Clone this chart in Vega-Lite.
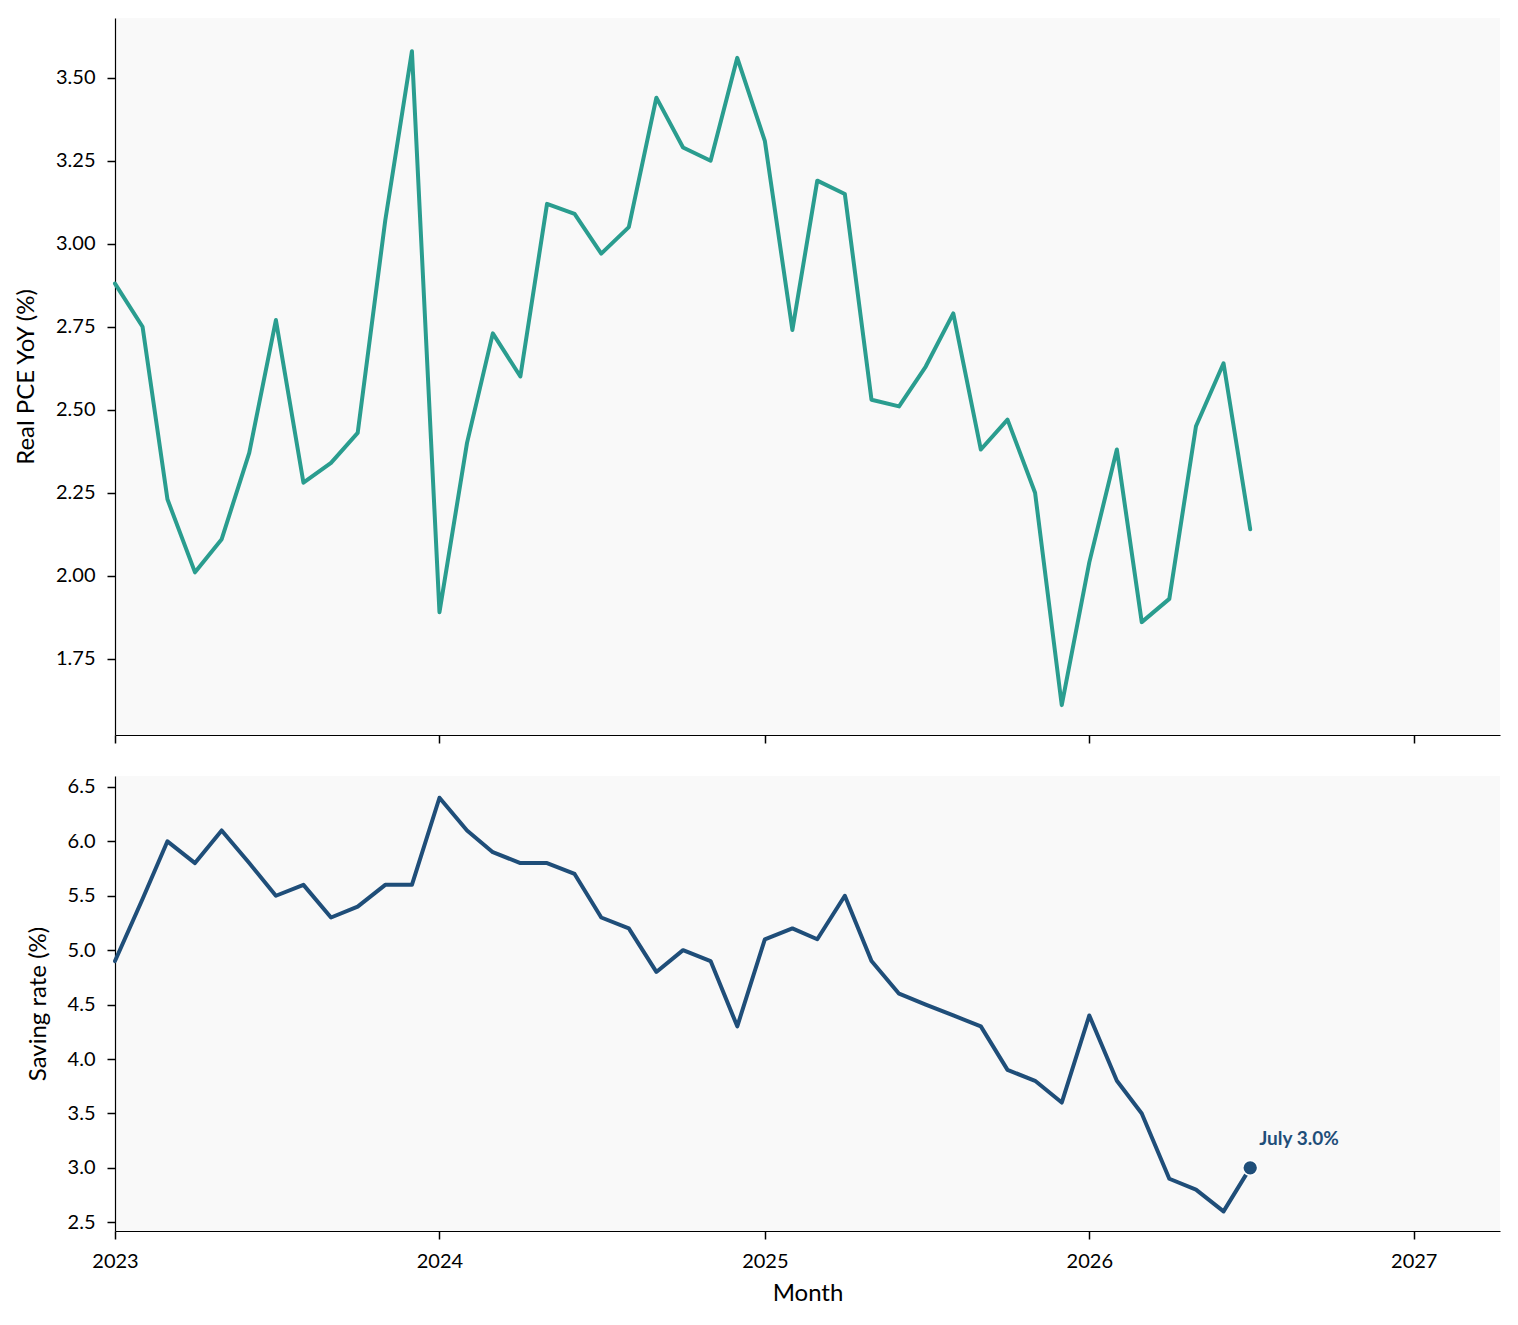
{
  "$schema": "https://vega.github.io/schema/vega-lite/v6.json",
  "padding": {"top": 18, "left": 14, "right": 18, "bottom": 5},
  "background": "white",
  "datasets": {
    "pce": [
      {"month": "2023-01-01", "pce": 2.88, "saving": 4.9},
      {"month": "2023-02-01", "pce": 2.75, "saving": 5.47},
      {"month": "2023-03-01", "pce": 2.23, "saving": 6.0},
      {"month": "2023-04-01", "pce": 2.01, "saving": 5.8},
      {"month": "2023-05-01", "pce": 2.11, "saving": 6.1},
      {"month": "2023-06-01", "pce": 2.37, "saving": 5.8},
      {"month": "2023-07-01", "pce": 2.77, "saving": 5.5},
      {"month": "2023-08-01", "pce": 2.28, "saving": 5.6},
      {"month": "2023-09-01", "pce": 2.34, "saving": 5.3},
      {"month": "2023-10-01", "pce": 2.43, "saving": 5.4},
      {"month": "2023-11-01", "pce": 3.07, "saving": 5.6},
      {"month": "2023-12-01", "pce": 3.58, "saving": 5.6},
      {"month": "2024-01-01", "pce": 1.89, "saving": 6.4},
      {"month": "2024-02-01", "pce": 2.4, "saving": 6.1},
      {"month": "2024-03-01", "pce": 2.73, "saving": 5.9},
      {"month": "2024-04-01", "pce": 2.6, "saving": 5.8},
      {"month": "2024-05-01", "pce": 3.12, "saving": 5.8},
      {"month": "2024-06-01", "pce": 3.09, "saving": 5.7},
      {"month": "2024-07-01", "pce": 2.97, "saving": 5.3},
      {"month": "2024-08-01", "pce": 3.05, "saving": 5.2},
      {"month": "2024-09-01", "pce": 3.44, "saving": 4.8},
      {"month": "2024-10-01", "pce": 3.29, "saving": 5.0},
      {"month": "2024-11-01", "pce": 3.25, "saving": 4.9},
      {"month": "2024-12-01", "pce": 3.56, "saving": 4.3},
      {"month": "2025-01-01", "pce": 3.31, "saving": 5.1},
      {"month": "2025-02-01", "pce": 2.74, "saving": 5.2},
      {"month": "2025-03-01", "pce": 3.19, "saving": 5.1},
      {"month": "2025-04-01", "pce": 3.15, "saving": 5.5},
      {"month": "2025-05-01", "pce": 2.53, "saving": 4.9},
      {"month": "2025-06-01", "pce": 2.51, "saving": 4.6},
      {"month": "2025-07-01", "pce": 2.63, "saving": 4.5},
      {"month": "2025-08-01", "pce": 2.79, "saving": 4.4},
      {"month": "2025-09-01", "pce": 2.38, "saving": 4.3},
      {"month": "2025-10-01", "pce": 2.47, "saving": 3.9},
      {"month": "2025-11-01", "pce": 2.25, "saving": 3.8},
      {"month": "2025-12-01", "pce": 1.61, "saving": 3.6},
      {"month": "2026-01-01", "pce": 2.04, "saving": 4.4},
      {"month": "2026-02-01", "pce": 2.38, "saving": 3.8},
      {"month": "2026-03-01", "pce": 1.86, "saving": 3.5},
      {"month": "2026-04-01", "pce": 1.93, "saving": 2.9},
      {"month": "2026-05-01", "pce": 2.45, "saving": 2.8},
      {"month": "2026-06-01", "pce": 2.64, "saving": 2.6},
      {"month": "2026-07-01", "pce": 2.14, "saving": 3.0}
    ],
    "last": [
      {"month": "2026-07-01", "saving": 3.0, "label": "July 3.0%"}
    ]
  },
  "spacing": 32,
  "vconcat": [
    {
      "width": 1385,
      "height": 717,
      "data": {"name": "pce"},
      "mark": {"type": "line", "color": "#2a9d8f", "strokeWidth": 4, "strokeCap": "round", "strokeJoin": "round"},
      "encoding": {
        "x": {
          "field": "month",
          "type": "temporal",
          "scale": {"domain": ["2023-01-01", "2027-04-08"]},
          "axis": {"labels": false, "title": null, "tickCount": "year"}
        },
        "y": {
          "field": "pce",
          "type": "quantitative",
          "scale": {"domain": [1.52, 3.68], "nice": false, "zero": false},
          "axis": {"title": "Real PCE YoY (%)", "values": [1.75, 2.0, 2.25, 2.5, 2.75, 3.0, 3.25, 3.5], "format": ".2f"}
        }
      }
    },
    {
      "width": 1385,
      "height": 455,
      "layer": [
        {
          "data": {"name": "pce"},
          "mark": {"type": "line", "color": "#1f4e79", "strokeWidth": 4, "strokeCap": "round", "strokeJoin": "round"},
          "encoding": {
            "x": {
              "field": "month",
              "type": "temporal",
              "scale": {"domain": ["2023-01-01", "2027-04-08"]},
              "axis": {"title": "Month", "format": "%Y", "tickCount": "year", "labelPadding": 12, "titlePadding": 10}
            },
            "y": {
              "field": "saving",
              "type": "quantitative",
              "scale": {"domain": [2.42, 6.6], "nice": false, "zero": false},
              "axis": {"title": "Saving rate (%)", "values": [2.5, 3.0, 3.5, 4.0, 4.5, 5.0, 5.5, 6.0, 6.5], "format": ".1f"}
            }
          }
        },
        {
          "data": {"name": "last"},
          "mark": {"type": "point", "filled": true, "size": 220, "color": "#1f4e79", "stroke": "white", "strokeWidth": 1.5, "opacity": 1},
          "encoding": {
            "x": {"field": "month", "type": "temporal"},
            "y": {"field": "saving", "type": "quantitative"}
          }
        },
        {
          "data": {"name": "last"},
          "mark": {"type": "text", "align": "left", "baseline": "alphabetic", "dx": 9, "dy": -23, "fontSize": 19, "fontWeight": "bold", "color": "#1f4e79"},
          "encoding": {
            "x": {"field": "month", "type": "temporal"},
            "y": {"field": "saving", "type": "quantitative"},
            "text": {"field": "label"}
          }
        }
      ]
    }
  ],
  "config": {
    "font": "Lato",
    "view": {"fill": "#f9f9f9", "stroke": null},
    "axis": {
      "grid": false,
      "domainColor": "black",
      "tickColor": "black",
      "domainWidth": 1.2,
      "tickWidth": 1.5,
      "tickSize": 8,
      "labelFontSize": 20,
      "labelColor": "black",
      "labelPadding": 12,
      "titleFontSize": 24,
      "titleFontWeight": "normal",
      "titleColor": "black",
      "titlePadding": 17
    },
    "axisX": {"labelFlush": false}
  }
}
